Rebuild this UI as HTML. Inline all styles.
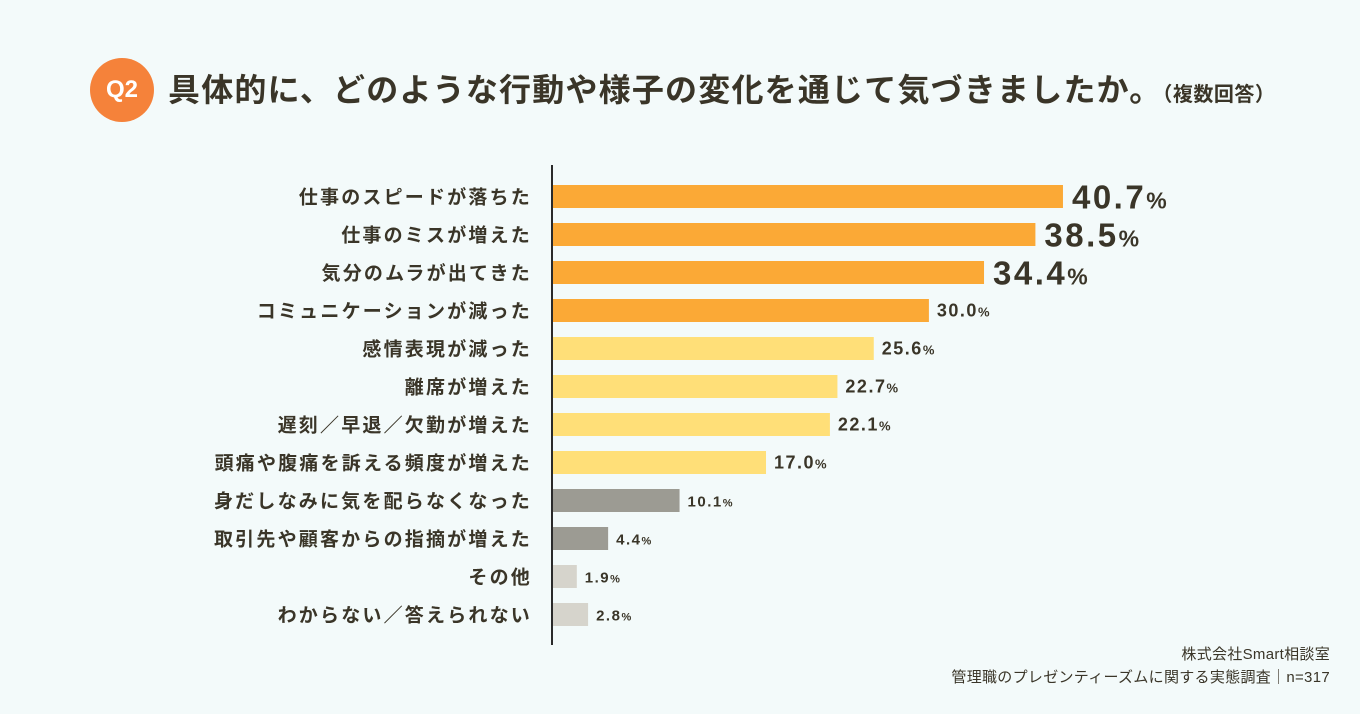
<!DOCTYPE html>
<html><head><meta charset="utf-8">
<style>
html,body{margin:0;padding:0;}
body{width:1360px;height:714px;background:#f3fafa;position:relative;overflow:hidden;font-family:"Liberation Sans","Noto Sans CJK JP",sans-serif;color:#3a3528;}
#chart{position:absolute;left:0;top:0;}
</style></head>
<body>
<div style="position:absolute;left:90px;top:58px;width:64px;height:64px;border-radius:50%;background:#f5823a;color:#fff;font-weight:bold;font-size:24px;line-height:64px;text-align:center;">Q2</div>
<div style="position:absolute;left:168px;top:65px;font-size:32px;font-weight:bold;white-space:nowrap;letter-spacing:1.2px;">具体的に、どのような行動や様子の変化を通じて気づきましたか。<span style="font-size:20px;letter-spacing:0.5px;">（複数回答）</span></div>
<svg id="chart" width="1360" height="714"></svg>
<div style="position:absolute;right:30px;top:643px;text-align:right;font-size:15px;line-height:23px;color:#3a3528;letter-spacing:0.3px;">株式会社Smart相談室<br>管理職のプレゼンティーズムに関する実態調査｜n=317</div>
<script>
const categories=["仕事のスピードが落ちた","仕事のミスが増えた","気分のムラが出てきた","コミュニケーションが減った","感情表現が減った","離席が増えた","遅刻／早退／欠勤が増えた","頭痛や腹痛を訴える頻度が増えた","身だしなみに気を配らなくなった","取引先や顧客からの指摘が増えた","その他","わからない／答えられない"];
const values=[40.7,38.5,34.4,30.0,25.6,22.7,22.1,17.0,10.1,4.4,1.9,2.8];
const groups=[0,0,0,0,1,1,1,1,2,2,3,3];
const colors=["#fba936","#ffdf78","#9c9b93","#d6d4cc"];
const svg=document.getElementById('chart');
const NS="http://www.w3.org/2000/svg";
const x0=553,pxPer=12.53,rowTop=185,rowStep=38,barH=23;
function xs(v){return x0+v*pxPer;}
function ys(i){return rowTop+i*rowStep;}
categories.forEach((c,i)=>{
  const r=document.createElementNS(NS,'rect');
  r.setAttribute('x',x0);r.setAttribute('y',ys(i));
  r.setAttribute('width',xs(values[i])-x0);r.setAttribute('height',barH);
  r.setAttribute('fill',colors[groups[i]]);
  
  
  svg.appendChild(r);
  const t=document.createElementNS(NS,'text');
  t.setAttribute('x',532);t.setAttribute('y',ys(i)+barH/2+7);
  t.setAttribute('text-anchor','end');t.setAttribute('font-size','19');t.setAttribute('font-weight','bold');
  t.setAttribute('letter-spacing','2.2');
  t.setAttribute('fill','#3a3528');
  t.textContent=c;
  
  
  svg.appendChild(t);
  const big=i<3;
  const fs=big?33:(i<8?18:15);
  const v=document.createElementNS(NS,'text');
  v.setAttribute('x',xs(values[i])+(big?9:8));
  v.setAttribute('y',ys(i)+barH/2+(big?12:6));
  v.setAttribute('font-size',fs);v.setAttribute('font-weight','bold');v.setAttribute('fill','#3a3528');
  v.setAttribute('letter-spacing',big?'2.5':'1.5');
  v.innerHTML=values[i].toFixed(1)+'<tspan font-size="'+Math.round(fs*0.7)+'">%</tspan>';
  
  
  svg.appendChild(v);
});
const ax=document.createElementNS(NS,'line');
ax.setAttribute('x1',552);ax.setAttribute('x2',552);ax.setAttribute('y1',165);ax.setAttribute('y2',645);
ax.setAttribute('stroke','#2a2a2a');ax.setAttribute('stroke-width','2');


svg.appendChild(ax);
</script>
</body></html>
